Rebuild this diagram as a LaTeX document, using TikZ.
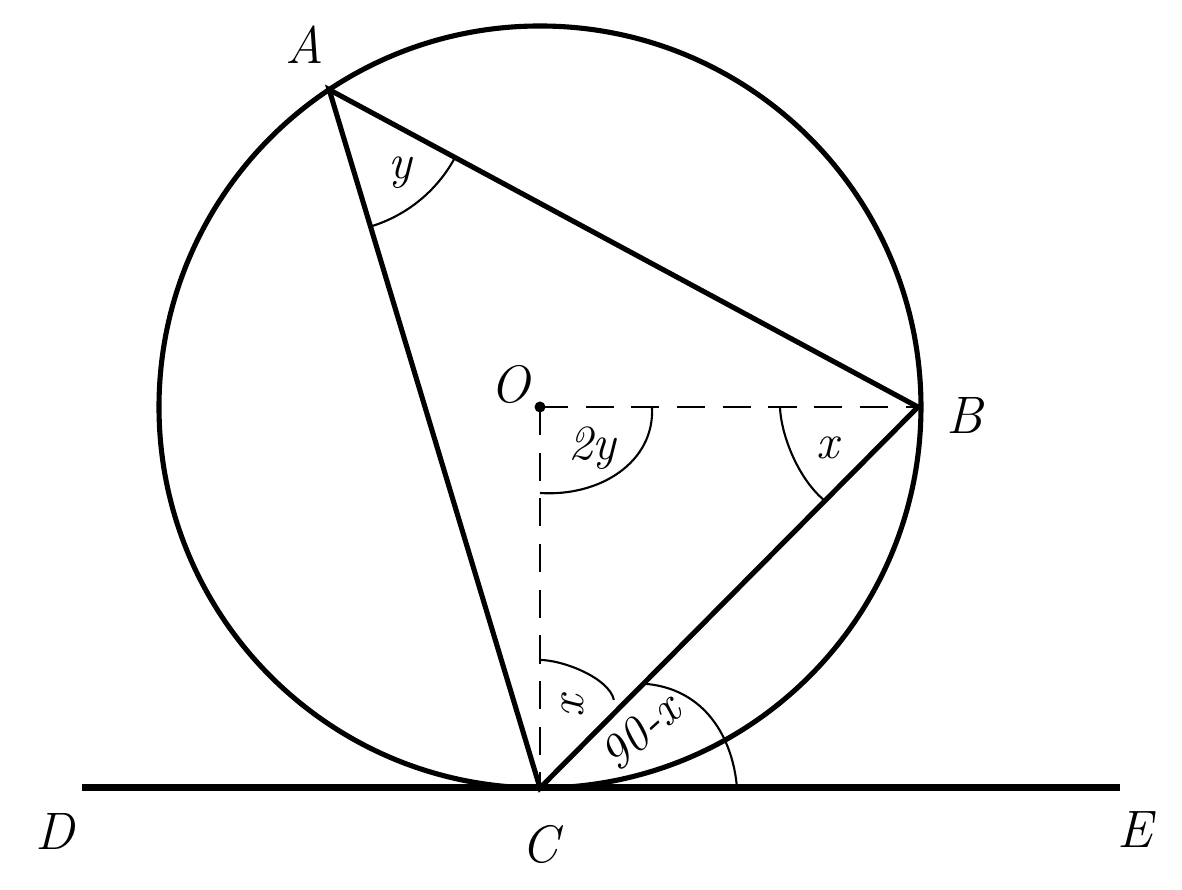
\documentclass[tikz,border=0pt]{standalone}
\usetikzlibrary{calc}
\begin{document}
\begin{tikzpicture}[
  thick line/.style={line width=1.45pt},
  base line/.style={line width=2pt},
  dash line/.style={line width=0.8pt, dash pattern=on 8pt off 5pt},
  angle arc/.style={line width=0.6pt},
  ptlabel/.style={font=\fontsize{15}{18}\selectfont\itshape, inner sep=0pt},
  hand/.style={font=\fontsize{14}{16}\selectfont\itshape, inner sep=0pt}
]
\useasboundingbox (0,0) rectangle (11.82,8.90);
\coordinate (O) at (5.40,4.83);
\coordinate (A) at ($(O)+(123.6:3.81)$);
\coordinate (B) at ($(O)+(0:3.78)$);
\coordinate (C) at ($(O)+(270:3.81)$);
\coordinate (D) at (0.82,1.02);
\coordinate (E) at (11.20,1.02);

\draw[thick line] (O) circle (3.81);
\draw[base line] (D) -- (E);
\draw[thick line, line join=miter] (A) -- (B) -- (C) -- cycle;
\draw[dash line] (O) -- (B);
\draw[dash line] (O) -- (C);
\fill (O) circle (0.055);

% angle arcs
\draw[angle arc] ([shift={(-73.2:1.43)}]A) arc[start angle=-73.2, end angle=-28.4, radius=1.43];
\draw[angle arc] ([shift={(-90:0.86)}]O) .. controls ($(O)+(0.6,-0.9)$) and ($(O)+(1.15,-0.55)$) .. ([shift={(0:1.12)}]O);
\draw[angle arc] ([shift={(180:1.38)}]B) .. controls ([shift={(192:1.4)}]B) and ([shift={(212:1.4)}]B) .. ([shift={(226:1.32)}]B);
\draw[angle arc] ([shift={(90:1.28)}]C) .. controls ([shift={(80:1.3)}]C) and ([shift={(58:1.3)}]C) .. ([shift={(50:1.15)}]C);
\draw[angle arc] ([shift={(45.2:1.47)}]C) .. controls ($(C)+(1.65,1.0)$) and ($(C)+(1.93,0.5)$) .. ([shift={(0:1.97)}]C);

% point labels
\node[ptlabel] (lA) at (3.05,8.45) {A};
\node[ptlabel] (lB) at (9.65,4.74) {B};
\node[ptlabel] (lC) at (5.40,0.45) {C};
\node[ptlabel] (lD) at (0.55,0.58) {D};
\node[ptlabel] (lE) at (11.35,0.60) {E};
\node[ptlabel] (lO) at (5.10,5.05) {O};

% angle labels
\node[hand] (ly) at (4.00,7.17) {y};
\node[hand] (l2y) at (5.92,4.42) {2y};
\node[hand] (lxB) at (8.28,4.42) {x};
\node[hand, rotate=90] (lxC) at (5.73,1.84) {x};
\node[hand, rotate=42] (l90) at (6.40,1.58) {90-x};
\end{tikzpicture}
\end{document}
